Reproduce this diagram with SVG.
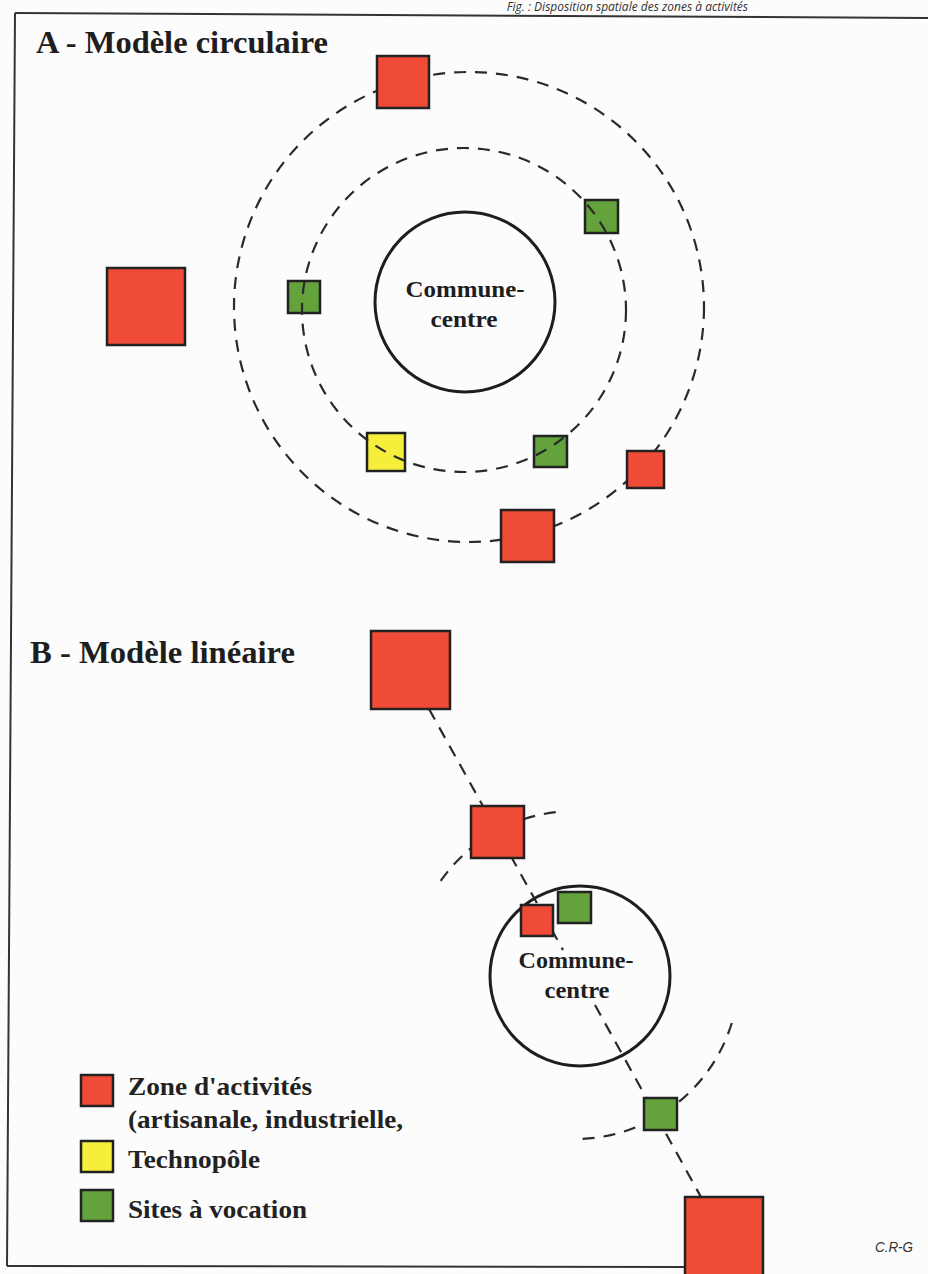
<svg xmlns="http://www.w3.org/2000/svg" width="928" height="1274" viewBox="0 0 928 1274">
<defs>
<style>
.bg{fill:#fcfcfd}
.frame{stroke:#333;stroke-width:2;fill:none}
.dash{fill:none;stroke:#2a2a2a;stroke-width:2.2;stroke-dasharray:12 9}
.commune{fill:none;stroke:#1e1e1e;stroke-width:3}
.red{fill:#ef4b36;stroke:#222;stroke-width:2.5}
.green{fill:#64a33c;stroke:#222;stroke-width:2.5}
.yellow{fill:#f5ee3a;stroke:#222;stroke-width:2.5}
.title{font-family:"Liberation Serif",serif;font-weight:bold;font-size:32px;fill:#1e1e1e}
.lbl{font-family:"Liberation Serif",serif;font-weight:bold;font-size:24px;fill:#1e1e1e}
.legend{font-family:"Liberation Serif",serif;font-weight:bold;font-size:25px;fill:#222}
.credit{font-family:"Liberation Sans",sans-serif;font-style:italic;font-size:14px;fill:#333}
.caption{font-family:"Open Sans","Liberation Sans",sans-serif;font-style:italic;font-size:12px;fill:#333}
</style>
</defs>
<rect class="bg" x="0" y="0" width="928" height="1274"/>
<text class="caption" x="748" y="10.5" text-anchor="end">Fig. : Disposition spatiale des zones à activités</text>
<g id="frame">
<line class="frame" x1="15" y1="13" x2="928" y2="18"/>
<line class="frame" x1="15" y1="13" x2="7" y2="1266"/>
<line class="frame" x1="7" y1="1266" x2="690" y2="1267"/>
</g>
<text class="title" x="36" y="53" textLength="292" lengthAdjust="spacingAndGlyphs">A - Modèle circulaire</text>
<text class="title" x="30" y="663" textLength="265" lengthAdjust="spacingAndGlyphs">B - Modèle linéaire</text>

<g id="connectors">
<circle class="dash" cx="469" cy="307" r="235"/>
<line class="dash" x1="429" y1="709" x2="563" y2="950"/>
<line class="dash" x1="595" y1="1005" x2="701" y2="1197"/>
<path class="dash" d="M 440.7 880.9 A 164 164 0 0 1 560.7 811.6"/>
<path class="dash" d="M 731.8 1023 A 164 164 0 0 1 575 1139"/>
</g>

<g id="commune-a">
<circle class="commune" cx="465" cy="302" r="90"/>
<text class="lbl" x="465" y="297" text-anchor="middle" textLength="119" lengthAdjust="spacingAndGlyphs">Commune-</text>
<text class="lbl" x="464" y="327" text-anchor="middle" textLength="67" lengthAdjust="spacingAndGlyphs">centre</text>
</g>
<g id="a-red-top"><rect class="red" x="377" y="56" width="52" height="52"/></g>
<g id="a-red-left"><rect class="red" x="107" y="268" width="78" height="77"/></g>
<g id="a-green-left"><rect class="green" x="288" y="281" width="32" height="32"/></g>
<g id="a-green-right"><rect class="green" x="585" y="200" width="33" height="33"/></g>
<g id="a-yellow"><rect class="yellow" x="367" y="433" width="38" height="38"/></g>
<g id="a-green-bottom"><rect class="green" x="534" y="436" width="33" height="31"/></g>
<g id="a-red-right"><rect class="red" x="627" y="451" width="37" height="37"/></g>
<g id="a-red-bottom"><rect class="red" x="501" y="510" width="53" height="52"/></g>

<g id="connectors-inner">
<circle class="dash" cx="464" cy="310" r="162"/>
</g>

<g id="commune-b">
<circle class="commune" cx="580" cy="976" r="90"/>
<text class="lbl" x="576" y="968" text-anchor="middle" textLength="115" lengthAdjust="spacingAndGlyphs">Commune-</text>
<text class="lbl" x="577" y="998" text-anchor="middle" textLength="65" lengthAdjust="spacingAndGlyphs">centre</text>
</g>
<g id="b-red-top"><rect class="red" x="371" y="631" width="79" height="78"/></g>
<g id="b-red-second"><rect class="red" x="471" y="806" width="53" height="52"/></g>
<g id="b-red-small"><rect class="red" x="521" y="905" width="32" height="31"/></g>
<g id="b-green-centre"><rect class="green" x="558" y="892" width="33" height="31"/></g>
<g id="b-green-lower"><rect class="green" x="644" y="1098" width="33" height="32"/></g>
<g id="b-red-bottom"><rect class="red" x="685" y="1197" width="78" height="82"/></g>

<g id="legend">
<rect class="red" x="81" y="1075" width="32" height="31"/>
<rect class="yellow" x="81" y="1141" width="32" height="31"/>
<rect class="green" x="81" y="1190" width="32" height="31"/>
<text class="legend" x="128" y="1095" textLength="184" lengthAdjust="spacingAndGlyphs">Zone d'activités</text>
<text class="legend" x="128" y="1128" textLength="275" lengthAdjust="spacingAndGlyphs">(artisanale, industrielle,</text>
<text class="legend" x="128" y="1168" textLength="132" lengthAdjust="spacingAndGlyphs">Technopôle</text>
<text class="legend" x="128" y="1218" textLength="179" lengthAdjust="spacingAndGlyphs">Sites à vocation</text>
</g>
<text class="credit" x="875" y="1252" textLength="38" lengthAdjust="spacingAndGlyphs">C.R-G</text>
</svg>
